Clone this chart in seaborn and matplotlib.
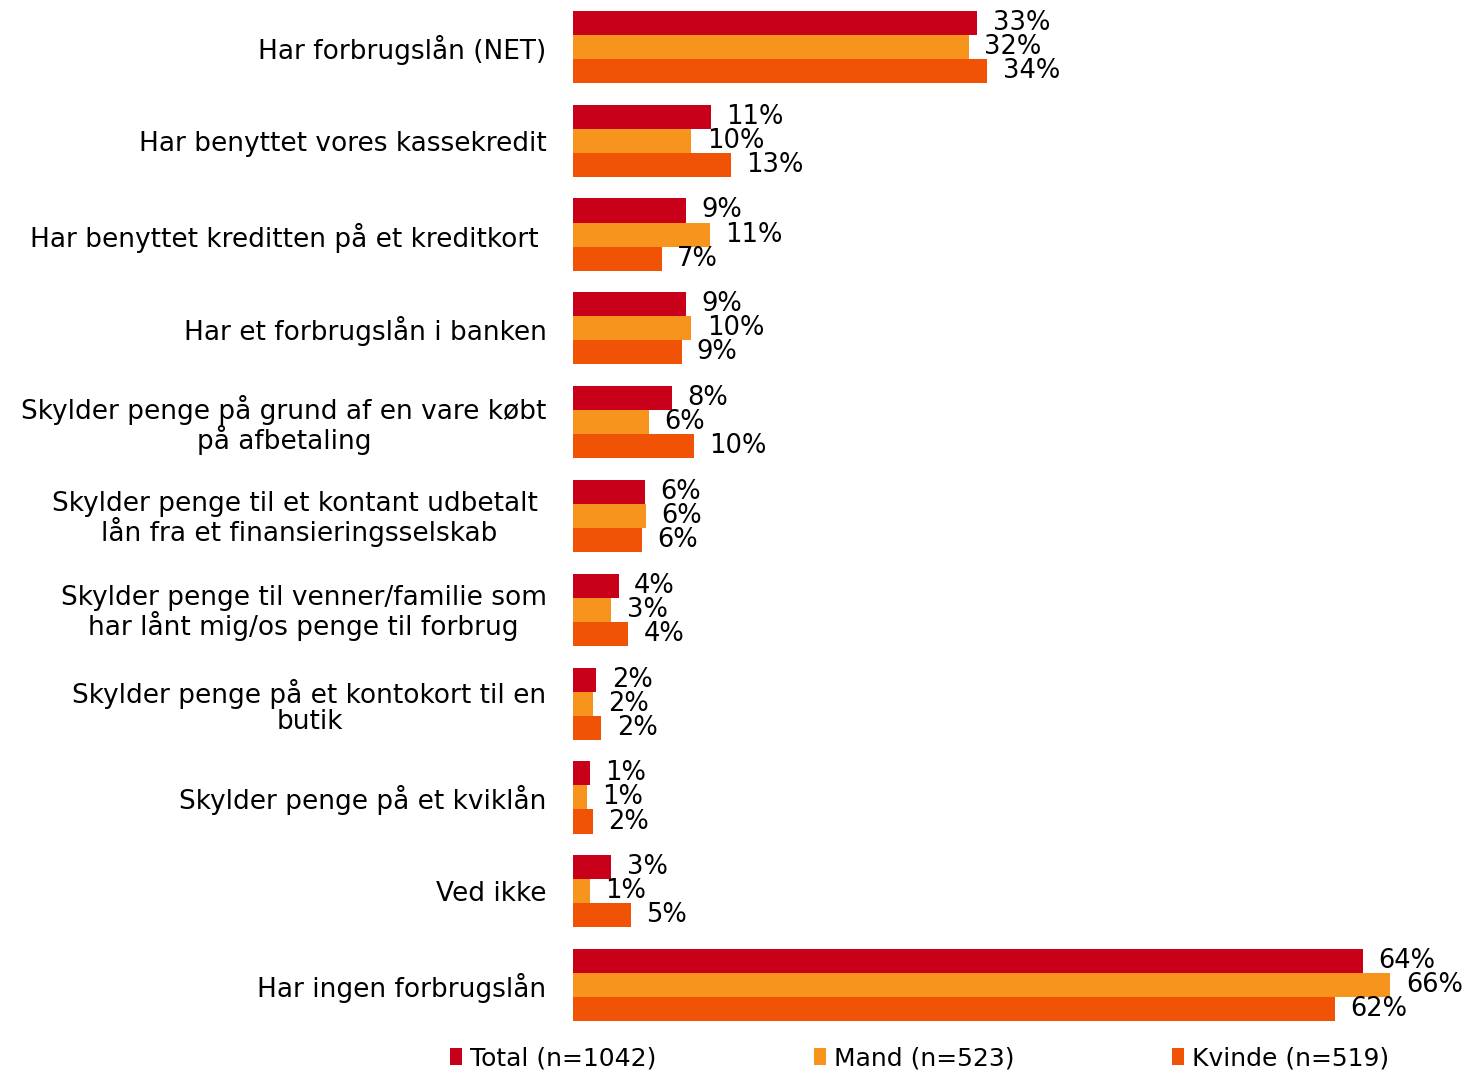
import pandas as pd
import matplotlib
matplotlib.use("Agg")
import matplotlib.pyplot as plt
import seaborn as sns
from matplotlib.patches import Patch

# data (percent)
categories = [
    "Har forbrugslån (NET)",
    "Har benyttet vores kassekredit",
    "Har benyttet kreditten på et kreditkort ",
    "Har et forbrugslån i banken",
    "Skylder penge på grund af en vare købt\npå afbetaling",
    "Skylder penge til et kontant udbetalt \nlån fra et finansieringsselskab",
    "Skylder penge til venner/familie som\nhar lånt mig/os penge til forbrug",
    "Skylder penge på et kontokort til en\nbutik",
    "Skylder penge på et kviklån",
    "Ved ikke",
    "Har ingen forbrugslån",
]
series = ["Total (n=1042)", "Mand (n=523)", "Kvinde (n=519)"]
total = [32.8, 11.2, 9.2, 9.2, 8.0, 5.8, 3.7, 1.9, 1.4, 3.1, 64.1]
mand = [32.1, 9.6, 11.1, 9.6, 6.2, 5.9, 3.1, 1.6, 1.1, 1.4, 66.3]
kvinde = [33.6, 12.8, 7.2, 8.8, 9.8, 5.6, 4.5, 2.3, 1.6, 4.7, 61.8]
colors = ["#C8001A", "#F7941E", "#F05206"]

rows = []
for name, vals in zip(series, [total, mand, kvinde]):
    for cat, v in zip(categories, vals):
        rows.append({"category": cat, "series": name, "value": v})
df = pd.DataFrame(rows)

sns.set_style("white")
plt.rcParams["font.family"] = ["DejaVu Sans"]
plt.rcParams["text.color"] = "black"
plt.rcParams["ytick.color"] = "black"

fig = plt.figure(figsize=(14.64, 10.7), dpi=100)
ax = fig.add_axes([573 / 1464, 38 / 1070, 1 - 573 / 1464, 1032 / 1070])

sns.barplot(data=df, y="category", x="value", hue="series", orient="h",
            palette=colors, saturation=1, width=0.77, gap=0, ax=ax,
            order=categories, hue_order=series, legend=False, linewidth=0)

for cont in ax.containers:
    vals = [b.get_width() for b in cont]
    ax.bar_label(cont, labels=[f"{v:.0f}%" for v in vals], padding=11,
                 fontsize=18.5, color="black")

ax.set_xlim(0, (1464 - 573) / 12.33)
ax.set_ylim(10.5, -0.5)
ax.set_xlabel("")
ax.set_ylabel("")
ax.set_xticks([])
ax.tick_params(axis="y", length=0, pad=19, labelsize=19, labelcolor="black")
for lab in ax.get_yticklabels():
    lab.set_multialignment("center")
    lab.set_linespacing(1.0)
sns.despine(ax=ax, left=True, bottom=True)

handles = [Patch(facecolor=c, edgecolor="none") for c in colors]
fig.legend(handles, series, loc="center", bbox_to_anchor=(0.628, 0.011),
           ncol=3, frameon=False, fontsize=18, handlelength=0.5,
           handleheight=0.7, handletextpad=0.3, columnspacing=6.3,
           borderpad=0)

fig.savefig("out.png", dpi=100)
